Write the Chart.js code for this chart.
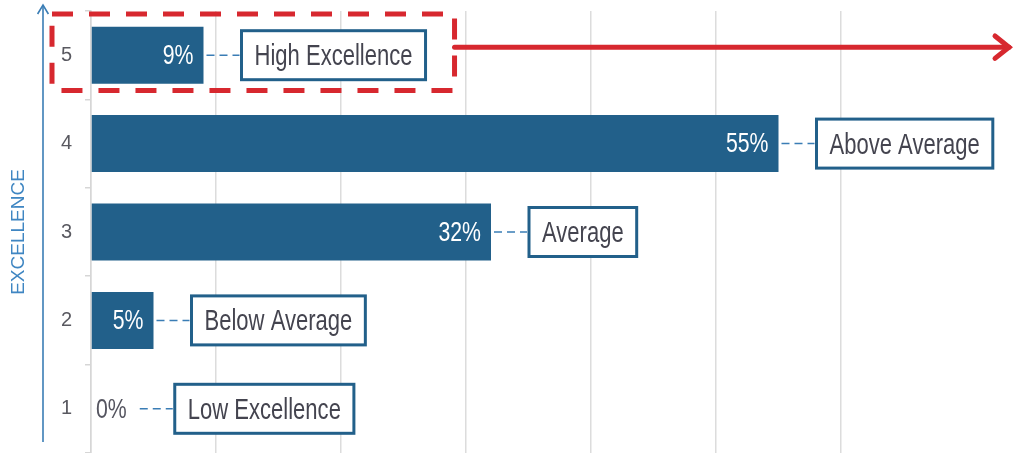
<!DOCTYPE html>
<html>
<head>
<meta charset="utf-8">
<script src="https://cdn.jsdelivr.net/npm/chart.js@4/dist/chart.umd.min.js"></script>
<style>
  html, body { margin: 0; padding: 0; background: #fff; }
  #wrap { width: 1015px; height: 453px; position: relative; }
</style>
</head>
<body>
<div id="wrap"><canvas id="levelChart"></canvas></div>
<script>
const levels = ['5', '4', '3', '2', '1'];
const shares = [9, 55, 32, 5, 0];
const levelNames = ['High Excellence', 'Above Average', 'Average', 'Below Average', 'Low Excellence'];
const xTicks = [0, 10, 20, 30, 40, 50, 60];
const highlightIndex = 0;

const FONT = "'Liberation Sans', Arial, sans-serif";
const NARROW = 0.76; // fake "Arial Narrow" by squeezing Liberation Sans
const BAR_BLUE = '#22608a';
const LINE_BLUE = '#3a7db5';
const RED = '#d7282f';

function narrowWidth(ctx, text) {
  return ctx.measureText(text).width * NARROW;
}

// draw squeezed text; align is left/right/center, x is the anchor
function narrowText(ctx, text, x, y, align) {
  const w = narrowWidth(ctx, text);
  let left = x;
  if (align === 'right') left = x - w;
  if (align === 'center') left = x - w / 2;
  ctx.save();
  ctx.translate(left, y);
  ctx.scale(NARROW, 1);
  ctx.textAlign = 'left';
  ctx.fillText(text, 0, 0);
  ctx.restore();
}

function arrowHead(ctx, x, y, dir, size) {
  ctx.beginPath();
  if (dir === 'up') {
    ctx.moveTo(x - size * 0.6, y + size);
    ctx.lineTo(x, y);
    ctx.lineTo(x + size * 0.6, y + size);
  } else {
    ctx.moveTo(x - size, y - size * 0.8);
    ctx.lineTo(x, y);
    ctx.lineTo(x - size, y + size * 0.8);
  }
  ctx.stroke();
}

const labelPlugin = {
  id: 'levelLabels',
  afterDatasetsDraw(chart) {
    const ctx = chart.ctx;
    const meta = chart.getDatasetMeta(0);
    const area = chart.chartArea;
    const yScale = chart.scales.y;
    const band = (area.bottom - area.top) / levels.length;
    let highlightBox = null;

    ctx.save();
    // vertical axis arrow
    ctx.strokeStyle = LINE_BLUE;
    ctx.lineWidth = 1.6;
    ctx.beginPath();
    ctx.moveTo(43, area.bottom - 11);
    ctx.lineTo(43, 5);
    ctx.stroke();
    arrowHead(ctx, 43, 5, 'up', 9);

    meta.data.forEach((bar, i) => {
      const value = shares[i];
      const text = value + '%';
      ctx.font = '28px ' + FONT;
      ctx.textBaseline = 'middle';
      let anchor;
      if (value > 0) {
        ctx.fillStyle = '#ffffff';
        narrowText(ctx, text, bar.x - 10, bar.y + 1, 'right');
        anchor = bar.x;
      } else {
        ctx.fillStyle = '#555560';
        narrowText(ctx, text, bar.base + 5, bar.y + 1, 'left');
        anchor = bar.base + 5 + narrowWidth(ctx, text) + 10;
      }
      // dashed connector
      ctx.strokeStyle = LINE_BLUE;
      ctx.lineWidth = 1.5;
      ctx.setLineDash([8, 5]);
      ctx.beginPath();
      ctx.moveTo(anchor + 3, bar.y);
      ctx.lineTo(anchor + 36, bar.y);
      ctx.stroke();
      ctx.setLineDash([]);
      // label box
      ctx.font = '29px ' + FONT;
      const w = narrowWidth(ctx, levelNames[i]) + 26;
      const h = 49;
      const bx = anchor + 38;
      const by = bar.y - h / 2;
      ctx.fillStyle = '#ffffff';
      ctx.fillRect(bx, by, w, h);
      ctx.strokeStyle = BAR_BLUE;
      ctx.lineWidth = 3;
      ctx.strokeRect(bx, by, w, h);
      ctx.fillStyle = '#44444f';
      narrowText(ctx, levelNames[i], bx + w / 2, bar.y + 2, 'center');
      if (i === highlightIndex) {
        const yc = yScale.getPixelForValue(i);
        highlightBox = { left: 52, right: bx + w + 29, top: yc - band / 2 + 3, bottom: yc + band / 2 - 9 };
      }
    });

    if (highlightBox) {
      ctx.strokeStyle = RED;
      ctx.lineWidth = 5;
      ctx.setLineDash([21, 16]);
      ctx.strokeRect(highlightBox.left, highlightBox.top,
        highlightBox.right - highlightBox.left, highlightBox.bottom - highlightBox.top);
      ctx.setLineDash([]);
      const ay = (highlightBox.top + highlightBox.bottom) / 2 - 5;
      ctx.lineWidth = 5;
      ctx.lineCap = 'round';
      ctx.beginPath();
      ctx.moveTo(highlightBox.right, ay);
      ctx.lineTo(chart.width - 6, ay);
      ctx.stroke();
      arrowHead(ctx, chart.width - 6, ay, 'right', 14);
    }
    ctx.restore();
  }
};

new Chart(document.getElementById('levelChart'), {
  type: 'bar',
  data: {
    labels: levels,
    datasets: [{
      data: shares,
      backgroundColor: BAR_BLUE,
      borderWidth: 0,
      barPercentage: 0.645,
      categoryPercentage: 1
    }]
  },
  options: {
    indexAxis: 'y',
    responsive: true,
    maintainAspectRatio: false,
    animation: false,
    layout: { padding: { top: 11, right: 174, bottom: 0, left: 0 } },
    plugins: { legend: { display: false }, tooltip: { enabled: false } },
    scales: {
      x: {
        min: 0,
        max: 60,
        afterBuildTicks: axis => { axis.ticks = xTicks.map(v => ({ value: v })); },
        afterFit: axis => { axis.height = 0; axis.paddingLeft = 0; axis.paddingRight = 0; },
        ticks: { display: false },
        grid: { color: '#dcdcdc', lineWidth: 1.5, drawTicks: false },
        border: { display: false }
      },
      y: {
        afterFit: axis => { axis.width = 91; axis.paddingTop = 0; axis.paddingBottom = 0; },
        ticks: { color: '#595960', padding: 13, font: { family: FONT, size: 20 } },
        grid: { drawOnChartArea: false, drawTicks: true, tickLength: 6, color: '#d6d6d6', lineWidth: 1.5 },
        border: { display: true, color: '#d6d6d6', width: 1.5 },
        title: {
          display: true,
          text: 'EXCELLENCE',
          color: '#3f86c2',
          font: { family: FONT, size: 19 },
          padding: { top: 7, bottom: 0 }
        }
      }
    }
  },
  plugins: [labelPlugin]
});
</script>
</body>
</html>
